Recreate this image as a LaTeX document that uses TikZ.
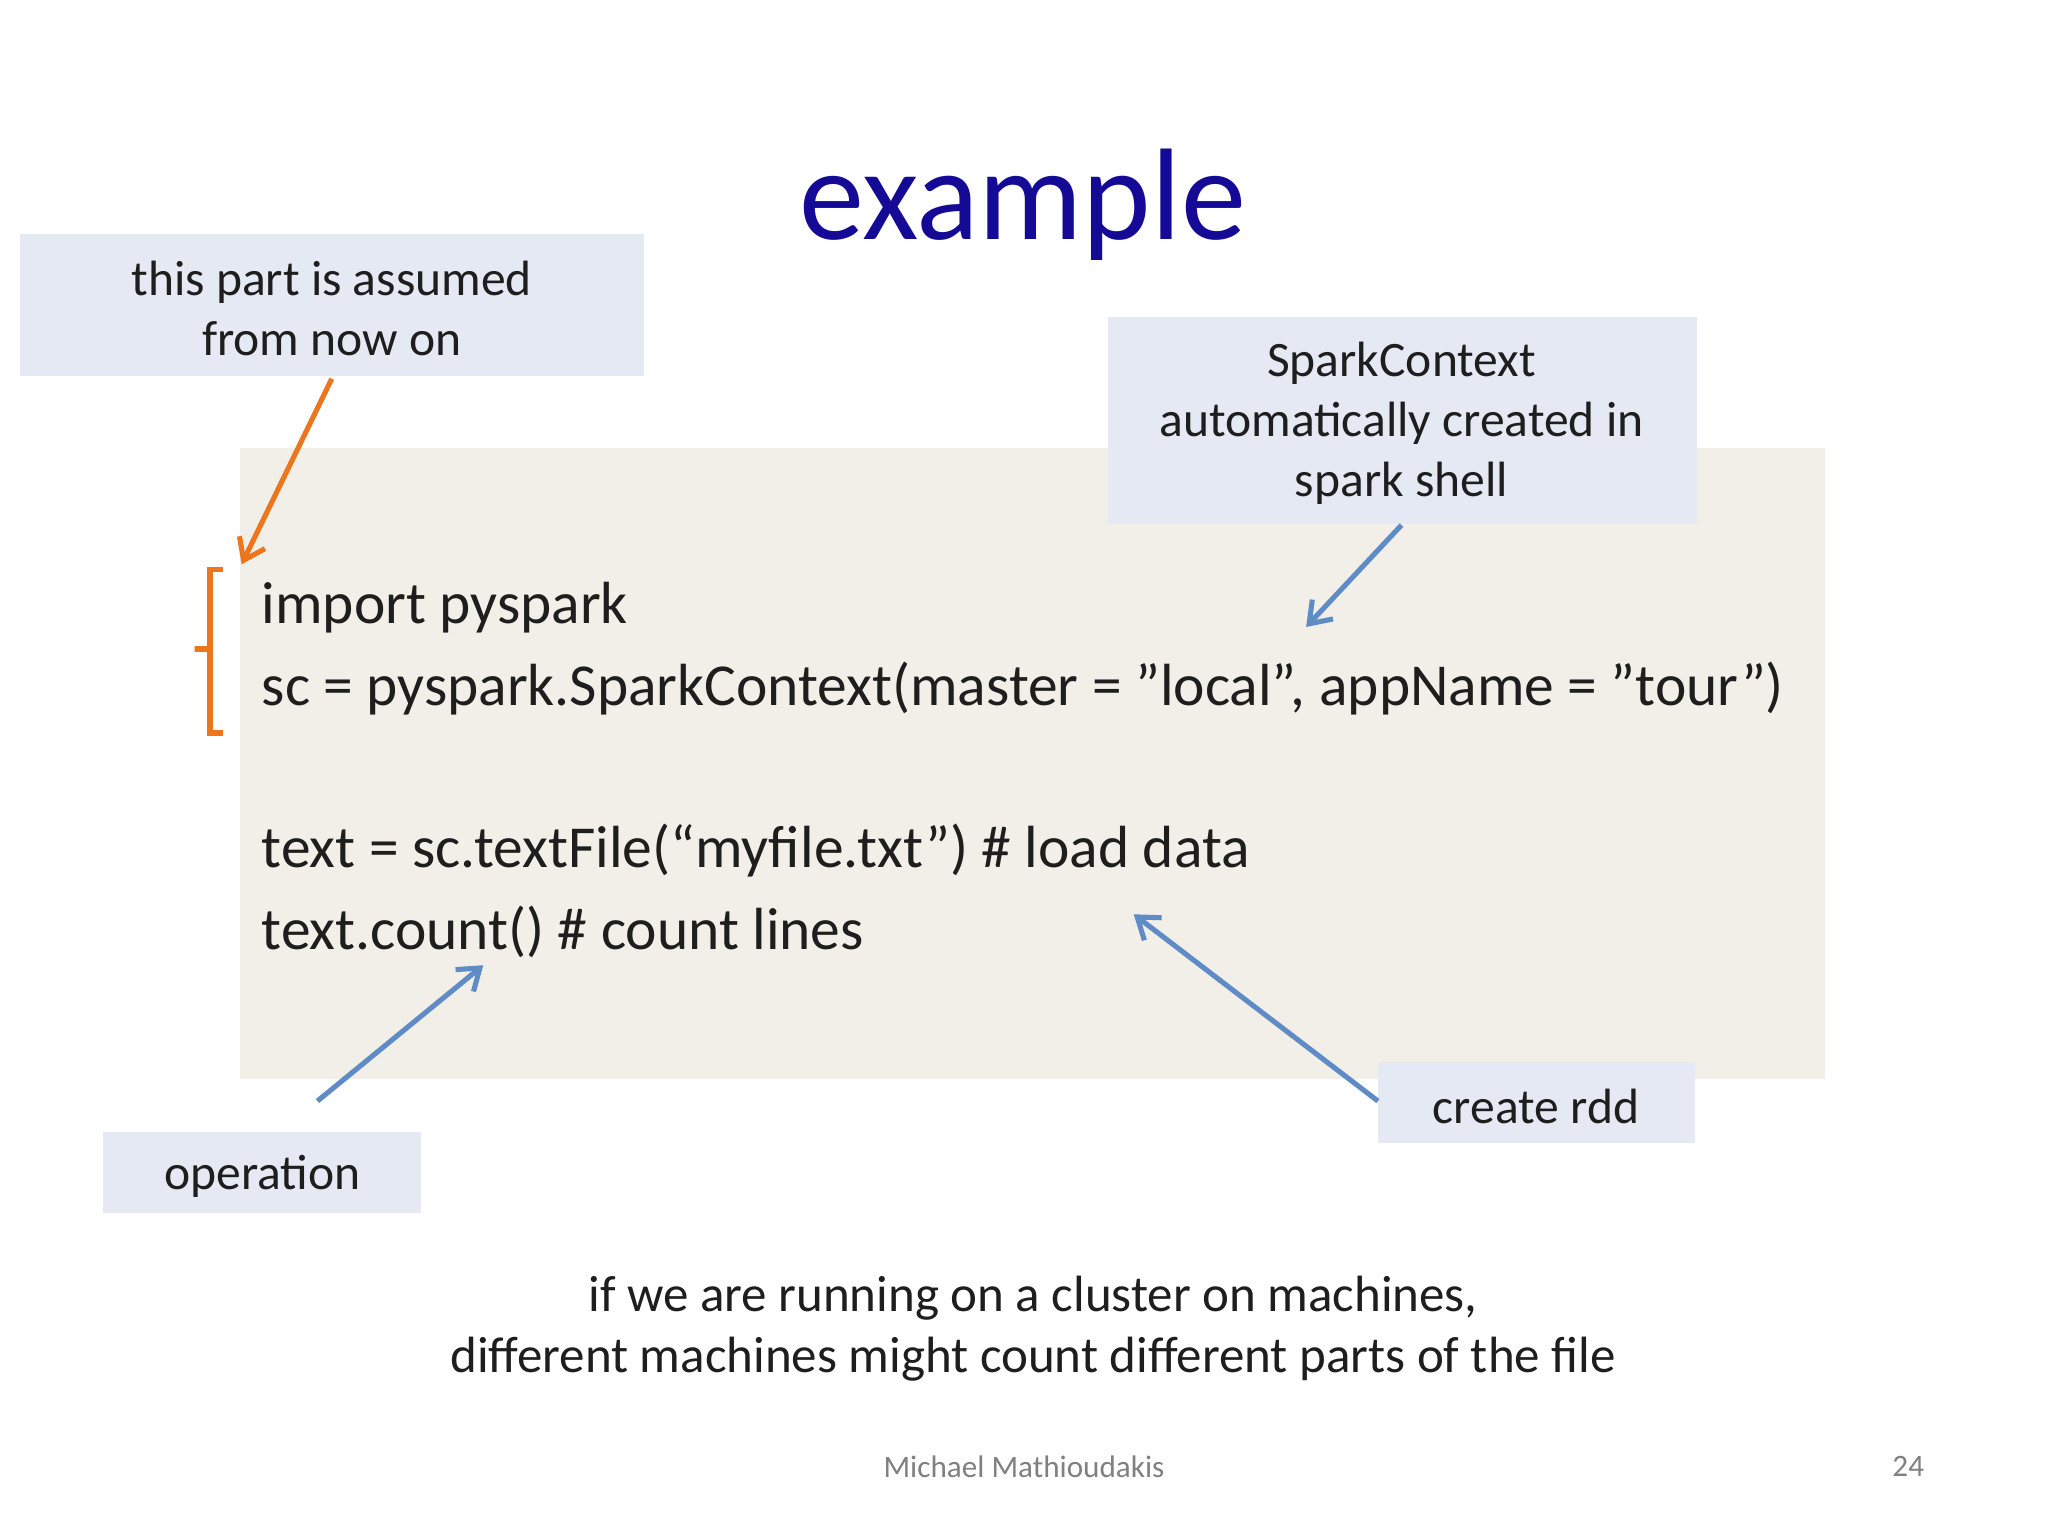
\documentclass[tikz,border=0pt]{standalone}
\usepackage{fontspec}
\setmainfont{Carlito}
\usetikzlibrary{arrows.meta}
\definecolor{titleblue}{RGB}{20,10,150}
\definecolor{callfill}{RGB}{228,233,243}
\definecolor{codebg}{RGB}{241,239,232}
\definecolor{orangec}{RGB}{236,118,30}
\definecolor{bluec}{RGB}{95,140,198}
\definecolor{txt}{RGB}{30,30,30}
\newcommand{\dq}{\symbol{34}}
\tikzset{
  calltext/.style={font=\fontsize{17.5}{21.3}\selectfont,text=txt,align=center},
  codeline/.style={anchor=base west,font=\fontsize{21}{25}\selectfont,text=txt,inner sep=0pt},
  barrow/.style={draw=bluec,line width=1.8pt,-{Straight Barb[length=7pt,width=10pt]}},
  oarrow/.style={draw=orangec,line width=1.8pt,-{Straight Barb[length=7pt,width=10pt]}}
}
\begin{document}
\begin{tikzpicture}[x=0.0162cm,y=-0.0162cm]
\useasboundingbox (0,0) rectangle (1568,1176);
\fill[white] (0,0) rectangle (1568,1176);
\node[font=\fontsize{46}{50}\selectfont,text=titleblue,anchor=base] (title) at (783,183) {example};
\fill[codebg] (184,343) rectangle (1397,826);
\fill[callfill] (15,179) rectangle (493,288);
\coordinate (c1b) at (254,290);
\node[calltext] (c1t) at (254,236) {this part is assumed\\from now on};
\fill[callfill] (848,243) rectangle (1299,401);
\coordinate (c2b) at (1073,402);
\node[calltext] (c2t) at (1073,324) {SparkContext\\automatically created in\\spark shell};
\fill[callfill] (1055,813) rectangle (1298,875);
\coordinate (c3l) at (1055,843);
\node[calltext] (c3t) at (1176,847) {create rdd};
\fill[callfill] (79,867) rectangle (322,929);
\coordinate (c4t) at (243,843);
\node[calltext] (c4) at (201,901) {operation};
\node[codeline] (l1) at (200,477) {import pyspark};
\node[codeline] (l2) at (200,540) {sc = pyspark.SparkContext(master = \dq local\dq, appName = \dq tour\dq)};
\node[codeline] (l3) at (200,664) {text = sc.textFile(“myfile.txt”) \# load data};
\node[codeline] (l4) at (200,727) {text.count() \# count lines};
\coordinate (a1) at (185,432);
\coordinate (a2) at (1000,480);
\coordinate (a3) at (868,700);
\coordinate (a4) at (370,739);
\draw[oarrow] (c1b) -- (a1);
\draw[barrow] (c2b) -- (a2);
\draw[barrow] (c3l) -- (a3);
\draw[barrow] (c4t) -- (a4);
\draw[orangec,line width=2pt] (171,436) -- (161,436) -- (161,497) -- (149,497) -- (161,497) -- (161,561) -- (171,561);
\node[calltext,font=\fontsize{18}{21.5}\selectfont] (bot) at (791,1017) {if we are running on a cluster on machines,\\different machines might count different parts of the file};
\node[font=\fontsize{11}{13}\selectfont,text=gray] (foot) at (784,1123) {Michael Mathioudakis};
\node[font=\fontsize{11}{13}\selectfont,text=gray] (pg) at (1461,1123) {24};
\end{tikzpicture}
\end{document}
